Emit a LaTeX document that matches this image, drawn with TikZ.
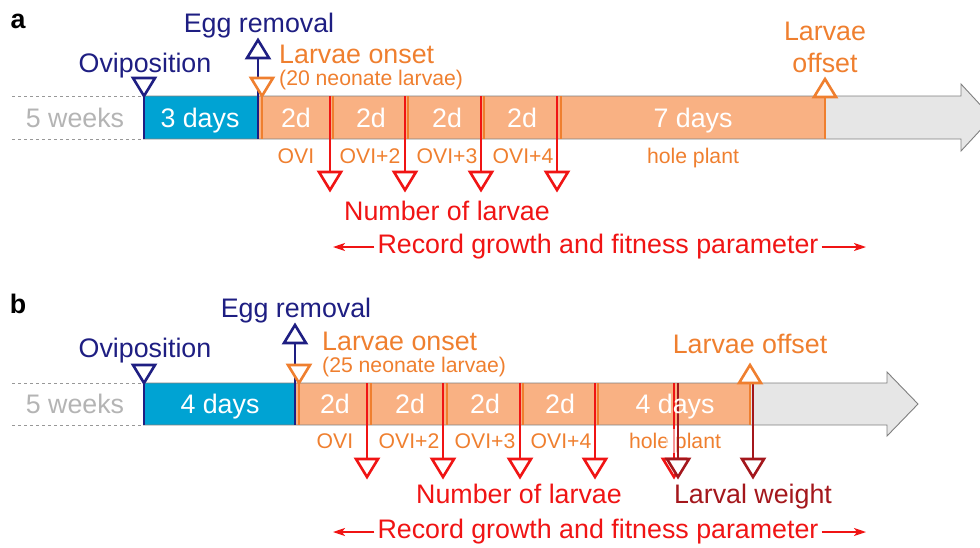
\documentclass[tikz,border=0pt]{standalone}
\usepackage{fontspec}
\setmainfont{Liberation Sans}
\usetikzlibrary{arrows.meta}
\definecolor{navy}{HTML}{1E1E82}
\definecolor{orangeT}{HTML}{EF7F2F}
\definecolor{salmon}{HTML}{F9B183}
\definecolor{bluebox}{HTML}{00A3D3}
\definecolor{redT}{HTML}{F01414}
\definecolor{darkredT}{HTML}{A4171C}
\definecolor{barGray}{HTML}{E6E6E6}
\definecolor{edgeGray}{HTML}{7F7F7F}
\definecolor{weekGray}{HTML}{B4B4B4}
\tikzset{
  big/.style={font=\fontsize{26.8}{30}\selectfont, inner sep=0pt, anchor=base},
  small/.style={font=\fontsize{21.2}{24}\selectfont, inner sep=0pt, anchor=base},
  seg/.style={big, text=white},
  lbl/.style={small, text=orangeT},
  mline/.style={line width=2.4pt},
  pics/dtri/.style={code={\draw[line width=2.6pt,#1,fill=white,line join=miter] (-11,-18)--(11,-18)--(0,0)--cycle;}},
  pics/utri/.style={code={\draw[line width=2.6pt,#1,fill=white,line join=miter] (-11,18)--(11,18)--(0,0)--cycle;}},
  rec/.style={redT, line width=1.8pt, -{Stealth[length=12pt,width=8pt,inset=3pt]}},
}
\begin{document}
\begin{tikzpicture}[x=1pt,y=-1pt]
\useasboundingbox (0,0) rectangle (980,547);

% ================= panel a =================
\node[big, font=\fontsize{26.8}{30}\selectfont\bfseries] (alab) at (18,28) {a};
\coordinate (a-d1s) at (12,96); \coordinate (a-d1e) at (143,96);
\coordinate (a-d2s) at (12,139); \coordinate (a-d2e) at (143,139);
\draw[edgeGray!80, dashed, line width=0.8pt] (a-d1s) -- (a-d1e);
\draw[edgeGray!80, dashed, line width=0.8pt] (a-d2s) -- (a-d2e);
\node[big, text=weekGray] (a-weeks) at (75,127) {5 weeks};
\fill[barGray] (143,96) -- (961,96) -- (961,84) -- (992,117.5) -- (961,151) -- (961,139) -- (143,139) -- cycle;
\fill[bluebox] (143,96) rectangle (258,139);
\fill[salmon] (258,96) rectangle (825,139);
\draw[edgeGray, line width=0.9pt] (143,96) -- (961,96) -- (961,84) -- (992,117.5) -- (961,151) -- (961,139) -- (143,139);
\foreach \x in {333,408,484,561} \draw[orangeT, line width=1.6pt] (\x,96) -- (\x,139);
\node[seg] (a-s0) at (200,127) {3 days};
\node[seg] (a-s1) at (296,127) {2d};
\node[seg] (a-s2) at (371,127) {2d};
\node[seg] (a-s3) at (447,127) {2d};
\node[seg] (a-s4) at (522,127) {2d};
\node[seg] (a-s5) at (693,127) {7 days};
\node[lbl] (a-l1) at (296,163) {OVI};
\node[lbl] (a-l2) at (370,163) {OVI+2};
\node[lbl] (a-l3) at (447,163) {OVI+3};
\node[lbl] (a-l4) at (523,163) {OVI+4};
\node[lbl] (a-l5) at (693,163) {hole plant};
\coordinate (a-ovi) at (144,96); \coordinate (a-ovib) at (144,139);
\draw[navy, mline] (a-ovi) -- (a-ovib);
\pic at (a-ovi) {dtri=navy};
\node[big, text=navy] (a-ovit) at (145,72) {Oviposition};
\coordinate (a-egg) at (258,40); \coordinate (a-eggm) at (258,57); \coordinate (a-eggb) at (258,139);
\draw[navy, mline] (a-eggm) -- (a-eggb);
\pic at (a-egg) {utri=navy};
\node[big, text=navy] (a-eggt) at (259,32) {Egg removal};
\coordinate (a-on) at (262,96); \coordinate (a-onb) at (262,139);
\draw[orangeT, mline] (a-on) -- (a-onb);
\pic at (a-on) {dtri=orangeT};
\node[big, text=orangeT, anchor=base west] (a-ont) at (279,63) {Larvae onset};
\node[small, text=orangeT, anchor=base west] (a-ont2) at (279,85) {(20 neonate larvae)};
\foreach \x [count=\i] in {330,405,481,557} {
  \coordinate (a-r\i) at (\x,96); \coordinate (a-rb\i) at (\x,172); \coordinate (a-rt\i) at (\x,190);
  \draw[redT, mline] (a-r\i) -- (a-rb\i);
  \pic at (a-rt\i) {dtri=redT};
}
\node[big, text=redT] (a-num) at (447,220) {Number of larvae};
\coordinate (a-off) at (825,79); \coordinate (a-offm) at (825,96); \coordinate (a-offb) at (825,139);
\draw[orangeT, mline] (a-offm) -- (a-offb);
\pic at (a-off) {utri=orangeT};
\node[big, text=orangeT] (a-offt1) at (825,40) {Larvae};
\node[big, text=orangeT] (a-offt2) at (825,72) {offset};
\node[big, text=redT] (a-rec) at (598,253) {Record growth and fitness parameter};
\coordinate (a-recL) at (333,247); \coordinate (a-recR) at (866,247);
\draw[rec] ([xshift=-3pt,yshift=6pt]a-rec.base west) -- (a-recL);
\draw[rec] ([xshift=3pt,yshift=6pt]a-rec.base east) -- (a-recR);

% ================= panel b =================
\node[big, font=\fontsize{26.8}{30}\selectfont\bfseries] (blab) at (18,313) {b};
\coordinate (b-d1s) at (12,383); \coordinate (b-d1e) at (143,383);
\coordinate (b-d2s) at (12,425); \coordinate (b-d2e) at (143,425);
\draw[edgeGray!80, dashed, line width=0.8pt] (b-d1s) -- (b-d1e);
\draw[edgeGray!80, dashed, line width=0.8pt] (b-d2s) -- (b-d2e);
\node[big, text=weekGray] (b-weeks) at (75,413) {5 weeks};
\fill[barGray] (143,383) -- (887,383) -- (887,372) -- (918,404) -- (887,436) -- (887,425) -- (143,425) -- cycle;
\fill[bluebox] (143,383) rectangle (296,425);
\fill[salmon] (296,383) rectangle (750,425);
\draw[edgeGray, line width=0.9pt] (143,383) -- (887,383) -- (887,372) -- (918,404) -- (887,436) -- (887,425) -- (143,425);
\foreach \x in {371,447,523,598} \draw[orangeT, line width=1.6pt] (\x,383) -- (\x,425);
\node[seg] (b-s0) at (220,413) {4 days};
\node[seg] (b-s1) at (335,413) {2d};
\node[seg] (b-s2) at (410,413) {2d};
\node[seg] (b-s3) at (485,413) {2d};
\node[seg] (b-s4) at (560,413) {2d};
\node[lbl] (b-l1) at (335,448) {OVI};
\node[lbl] (b-l2) at (409,448) {OVI+2};
\node[lbl] (b-l3) at (485,448) {OVI+3};
\node[lbl] (b-l4) at (561,448) {OVI+4};
\node[lbl] (b-l5) at (675,448) {hole plant};
\coordinate (b-ovi) at (144,383); \coordinate (b-ovib) at (144,425);
\draw[navy, mline] (b-ovi) -- (b-ovib);
\pic at (b-ovi) {dtri=navy};
\node[big, text=navy] (b-ovit) at (145,357) {Oviposition};
\coordinate (b-egg) at (295,325); \coordinate (b-eggm) at (295,342); \coordinate (b-eggb) at (295,425);
\draw[navy, mline] (b-eggm) -- (b-eggb);
\pic at (b-egg) {utri=navy};
\node[big, text=navy] (b-eggt) at (296,317) {Egg removal};
\coordinate (b-on) at (299,383); \coordinate (b-onb) at (299,425);
\draw[orangeT, mline] (b-on) -- (b-onb);
\pic at (b-on) {dtri=orangeT};
\node[big, text=orangeT, anchor=base west] (b-ont) at (322,350) {Larvae onset};
\node[small, text=orangeT, anchor=base west] (b-ont2) at (322,372) {(25 neonate larvae)};
\foreach \x [count=\i] in {367,443,520,595,674} {
  \coordinate (b-r\i) at (\x,383); \coordinate (b-rb\i) at (\x,459); \coordinate (b-rt\i) at (\x,477);
  \draw[redT, mline] (b-r\i) -- (b-rb\i);
  \pic at (b-rt\i) {dtri=redT};
}
\node[big, text=redT] (b-num) at (519,503) {Number of larvae};
\foreach \x [count=\i] in {678,753} {
  \coordinate (b-w\i) at (\x,383); \coordinate (b-wb\i) at (\x,459); \coordinate (b-wt\i) at (\x,477);
  \draw[darkredT, mline] (b-w\i) -- (b-wb\i);
  \pic at (b-wt\i) {dtri=darkredT};
}
\node[seg] (b-s5) at (675,413) {4 days};
\fill[white, opacity=0.55] (666,429) rectangle (677,453);
\node[big, text=darkredT] (b-wt) at (753,503) {Larval weight};
\coordinate (b-off) at (750,365); \coordinate (b-offm) at (750,383); \coordinate (b-offb) at (750,425);
\draw[orangeT, mline] (b-offm) -- (b-offb);
\pic at (b-off) {utri=orangeT};
\node[big, text=orangeT] (b-offt) at (750,353) {Larvae offset};
\node[big, text=redT] (b-rec) at (598,538) {Record growth and fitness parameter};
\coordinate (b-recL) at (333,532); \coordinate (b-recR) at (866,532);
\draw[rec] ([xshift=-3pt,yshift=6pt]b-rec.base west) -- (b-recL);
\draw[rec] ([xshift=3pt,yshift=6pt]b-rec.base east) -- (b-recR);
\end{tikzpicture}
\end{document}
